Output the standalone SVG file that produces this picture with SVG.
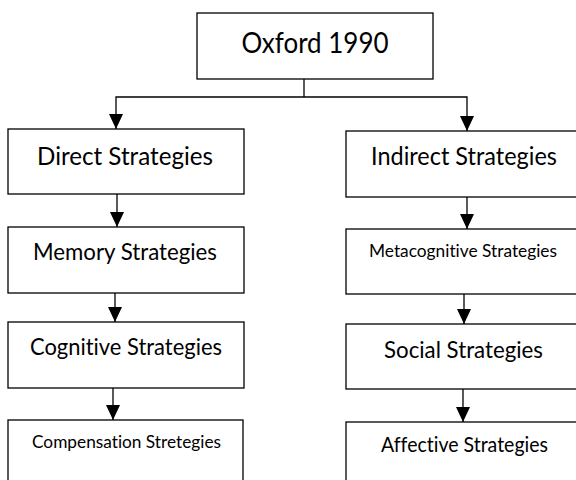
<svg xmlns="http://www.w3.org/2000/svg" width="576" height="480" viewBox="0 0 576 480">
<defs>
<style>
.box{fill:#fff;stroke:#000;stroke-width:1.3}
.lbl{font-family:Lato,"Open Sans","Liberation Sans",sans-serif;fill:#000;text-anchor:middle;font-variant-ligatures:none;font-feature-settings:"liga" 0,"dlig" 0}
.con{fill:none;stroke:#000;stroke-width:1.3}
</style>
<marker id="ah" markerUnits="userSpaceOnUse" markerWidth="16" markerHeight="16" refX="15" refY="7" orient="auto">
<path d="M0,0 L15,7 L0,14 Z" fill="#000"/>
</marker>
</defs>
<rect width="576" height="480" fill="#fff"/>
<g id="connectors">
<path class="con" d="M304,79 V97"/>
<path class="con" d="M304,97 H116 V129" marker-end="url(#ah)"/>
<path class="con" d="M304,97 H467 V131" marker-end="url(#ah)"/>
<path class="con" d="M117,194 V227" marker-end="url(#ah)"/>
<path class="con" d="M115,293 V322" marker-end="url(#ah)"/>
<path class="con" d="M113,388 V420" marker-end="url(#ah)"/>
<path class="con" d="M467,197 V229" marker-end="url(#ah)"/>
<path class="con" d="M464,294 V324" marker-end="url(#ah)"/>
<path class="con" d="M463,389 V422" marker-end="url(#ah)"/>
</g>
<g id="oxford"><rect class="box" x="197" y="13" width="236" height="66"/><text class="lbl" x="315" y="53" font-size="28" textLength="147" lengthAdjust="spacingAndGlyphs">Oxford 1990</text></g>
<g id="direct"><rect class="box" x="8" y="129" width="236" height="65"/><text class="lbl" x="125" y="165" font-size="25" textLength="176" lengthAdjust="spacingAndGlyphs">Direct Strategies</text></g>
<g id="memory"><rect class="box" x="8" y="227" width="236" height="66"/><text class="lbl" x="125" y="260" font-size="23" textLength="184" lengthAdjust="spacingAndGlyphs">Memory Strategies</text></g>
<g id="cognitive"><rect class="box" x="8" y="322" width="236" height="66"/><text class="lbl" x="126" y="355" font-size="24" textLength="192" lengthAdjust="spacingAndGlyphs">Cognitive Strategies</text></g>
<g id="compensation"><rect class="box" x="8" y="420" width="235" height="80"/><text class="lbl" x="126.5" y="448" font-size="17" textLength="189" lengthAdjust="spacingAndGlyphs">Compensation Stretegies</text></g>
<g id="indirect"><rect class="box" x="346" y="131" width="236" height="66"/><text class="lbl" x="464" y="165" font-size="25" textLength="186" lengthAdjust="spacingAndGlyphs">Indirect Strategies</text></g>
<g id="metacognitive"><rect class="box" x="346" y="229" width="236" height="65"/><text class="lbl" x="463" y="257" font-size="17" textLength="188" lengthAdjust="spacingAndGlyphs">Metacognitive Strategies</text></g>
<g id="social"><rect class="box" x="346" y="324" width="236" height="65"/><text class="lbl" x="463.5" y="358" font-size="23" textLength="159" lengthAdjust="spacingAndGlyphs">Social Strategies</text></g>
<g id="affective"><rect class="box" x="346" y="422" width="236" height="80"/><text class="lbl" x="464.5" y="452" font-size="21" textLength="167" lengthAdjust="spacingAndGlyphs">Affective Strategies</text></g>
</svg>
